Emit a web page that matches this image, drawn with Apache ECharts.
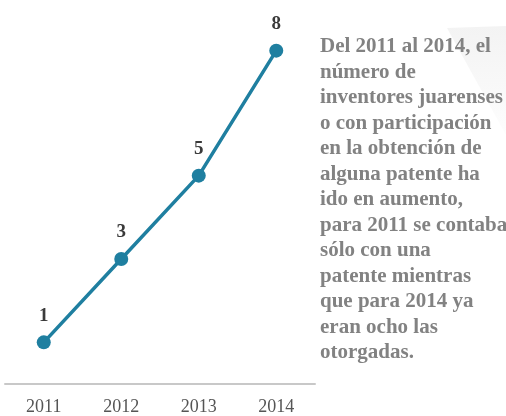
<!DOCTYPE html>
<html lang="es">
<head>
<meta charset="UTF-8">
<script src="https://cdn.jsdelivr.net/npm/echarts@6/dist/echarts.min.js"></script>
<style>
  html, body { margin: 0; padding: 0; background: #fff; }
  #chart { width: 506px; height: 416px; }
</style>
</head>
<body>
<div id="chart"></div>
<script>
// datos
var years = ['2011', '2012', '2013', '2014'];
var inventores = [1, 3, 5, 8];
var nota = [
  'Del 2011 al 2014, el',
  'número de',
  'inventores juarenses',
  'o con participación',
  'en la obtención de',
  'alguna patente ha',
  'ido en aumento,',
  'para 2011 se contaba',
  'sólo con una',
  'patente mientras',
  'que para 2014 ya',
  'eran ocho las',
  'otorgadas.'
];

var serif = '"Liberation Serif", "DejaVu Serif", serif';
var chart = echarts.init(document.getElementById('chart'));

chart.setOption({
  animation: false,
  grid: { left: 5, right: 191, top: 9, bottom: 29 },
  xAxis: {
    type: 'category',
    data: years,
    boundaryGap: true,
    axisLine: { lineStyle: { color: '#c8c8c8', width: 2 } },
    axisTick: { show: false },
    axisLabel: { color: '#555', fontFamily: serif, fontSize: 18, margin: 14 }
  },
  yAxis: {
    type: 'value',
    min: 0,
    max: 9,
    show: false,
    splitLine: { show: false }
  },
  graphic: [
    {
      type: 'polygon',
      z: -1,
      shape: { points: [[447, 28], [506, 26], [506, 135]] },
      style: {
        fill: {
          type: 'linear', x: 0, y: 0, x2: 0, y2: 1,
          colorStops: [{ offset: 0, color: '#f3f3f3' }, { offset: 1, color: '#fdfdfd' }]
        }
      }
    },
    {
      type: 'text',
      left: 320,
      top: 34,
      style: {
        text: nota.join('\n'),
        fill: '#828282',
        font: 'bold 21px ' + serif,
        lineHeight: 25.5
      }
    }
  ],
  series: [{
    type: 'line',
    data: inventores,
    symbol: 'circle',
    symbolSize: 14,
    lineStyle: { color: '#1f7fa0', width: 3.5 },
    itemStyle: { color: '#1f7fa0' },
    label: {
      show: true,
      position: 'top',
      distance: 10,
      color: '#3a3a3a',
      fontFamily: serif,
      fontWeight: 'bold',
      fontSize: 19
    }
  }]
});
</script>
</body>
</html>
